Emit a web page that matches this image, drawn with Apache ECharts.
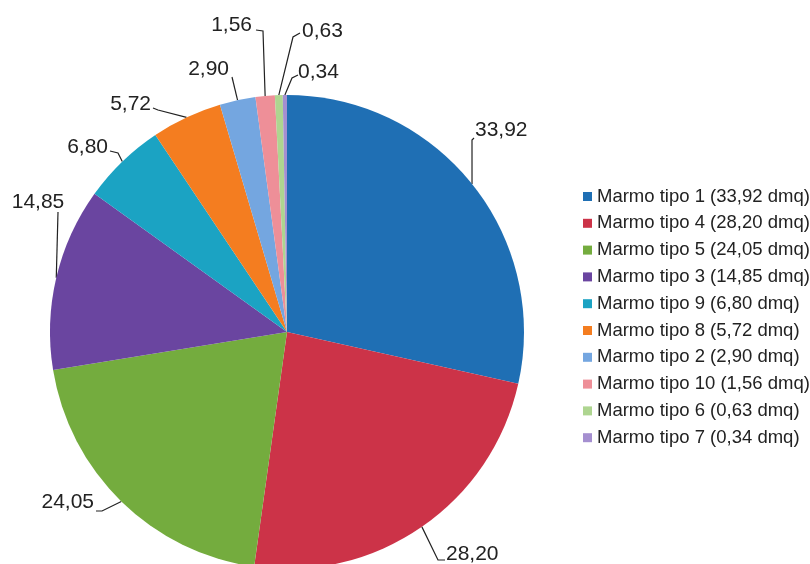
<!DOCTYPE html>
<html>
<head>
<meta charset="utf-8">
<script src="https://cdn.jsdelivr.net/npm/echarts@6/dist/echarts.min.js"></script>
<style>
  html, body { margin: 0; padding: 0; background: #fff; }
  #chart { width: 810px; height: 564px; }
</style>
</head>
<body>
<div id="chart"></div>
<script>
// slices in drawing order (clockwise from 12 o'clock)
const names = ['Marmo tipo 1', 'Marmo tipo 4', 'Marmo tipo 5', 'Marmo tipo 3', 'Marmo tipo 9',
  'Marmo tipo 8', 'Marmo tipo 2', 'Marmo tipo 10', 'Marmo tipo 6', 'Marmo tipo 7']
const values = [33.92, 28.20, 24.05, 14.85, 6.80, 5.72, 2.90, 1.56, 0.63, 0.34]
const colors = ['#1f6fb4', '#cc3348', '#74ac3e', '#6a45a0', '#1ba3c3',
  '#f47d20', '#74a6e0', '#ee8f98', '#aed590', '#a58fd0']

// hand placed data labels (Excel style): text anchor x, y, align, elbow point, text-side end of leader
const labelSpots = [
  { x: 475, y: 130, align: 'left',   elbow: [472, 140], end: [474, 138] },
  { x: 446, y: 554, align: 'left',   elbow: [438, 560], end: [445, 560] },
  { x: 94,  y: 502, align: 'right',  elbow: [102, 511], end: [96, 511] },
  { x: 38,  y: 202, align: 'center', elbow: [58, 212],  end: [58, 212] },
  { x: 108, y: 147, align: 'right',  elbow: [118, 153], end: [110, 151] },
  { x: 151, y: 104, align: 'right',  elbow: [158, 110], end: [153, 108] },
  { x: 229, y: 69,  align: 'right',  elbow: [232, 77],  end: [232, 77] },
  { x: 252, y: 25,  align: 'right',  elbow: [263, 31],  end: [256, 30] },
  { x: 302, y: 31,  align: 'left',   elbow: [293, 37],  end: [300, 33] },
  { x: 298, y: 72,  align: 'left',   elbow: [292, 78],  end: [298, 75] }
]

const fmt = v => v.toFixed(2).replace('.', ',')

const chart = echarts.init(document.getElementById('chart'))

chart.setOption({
  animation: false,
  color: colors,
  legend: {
    orient: 'vertical',
    left: 583, top: 187, padding: 0,
    icon: 'rect', itemWidth: 9, itemHeight: 9, itemGap: 7.8,
    textStyle: { fontFamily: 'Liberation Sans, Arial', fontSize: 18.5, color: '#222', lineHeight: 18.5 },
    formatter: name => `${name} (${fmt(values[names.indexOf(name)])} dmq)`,
    selectedMode: false
  },
  series: [{
    type: 'pie',
    center: [287, 332],
    radius: 237,
    startAngle: 90,
    clockwise: true,
    avoidLabelOverlap: false,
    label: {
      show: true,
      position: 'outside',
      formatter: p => fmt(p.value),
      fontFamily: 'Liberation Sans, Arial',
      fontSize: 21,
      color: '#222'
    },
    labelLine: { show: true, length: 10, length2: 5, lineStyle: { color: '#222', width: 1.2 } },
    labelLayout: params => {
      const s = labelSpots[params.dataIndex]
      const edge = params.labelLinePoints ? params.labelLinePoints[0] : s.elbow
      return {
        x: s.x, y: s.y, align: s.align, verticalAlign: 'middle',
        labelLinePoints: [edge, s.elbow, s.end]
      }
    },
    itemStyle: { borderWidth: 0 },
    emphasis: { disabled: true },
    data: names.map((n, i) => ({ name: n, value: values[i] }))
  }]
})
</script>
</body>
</html>
